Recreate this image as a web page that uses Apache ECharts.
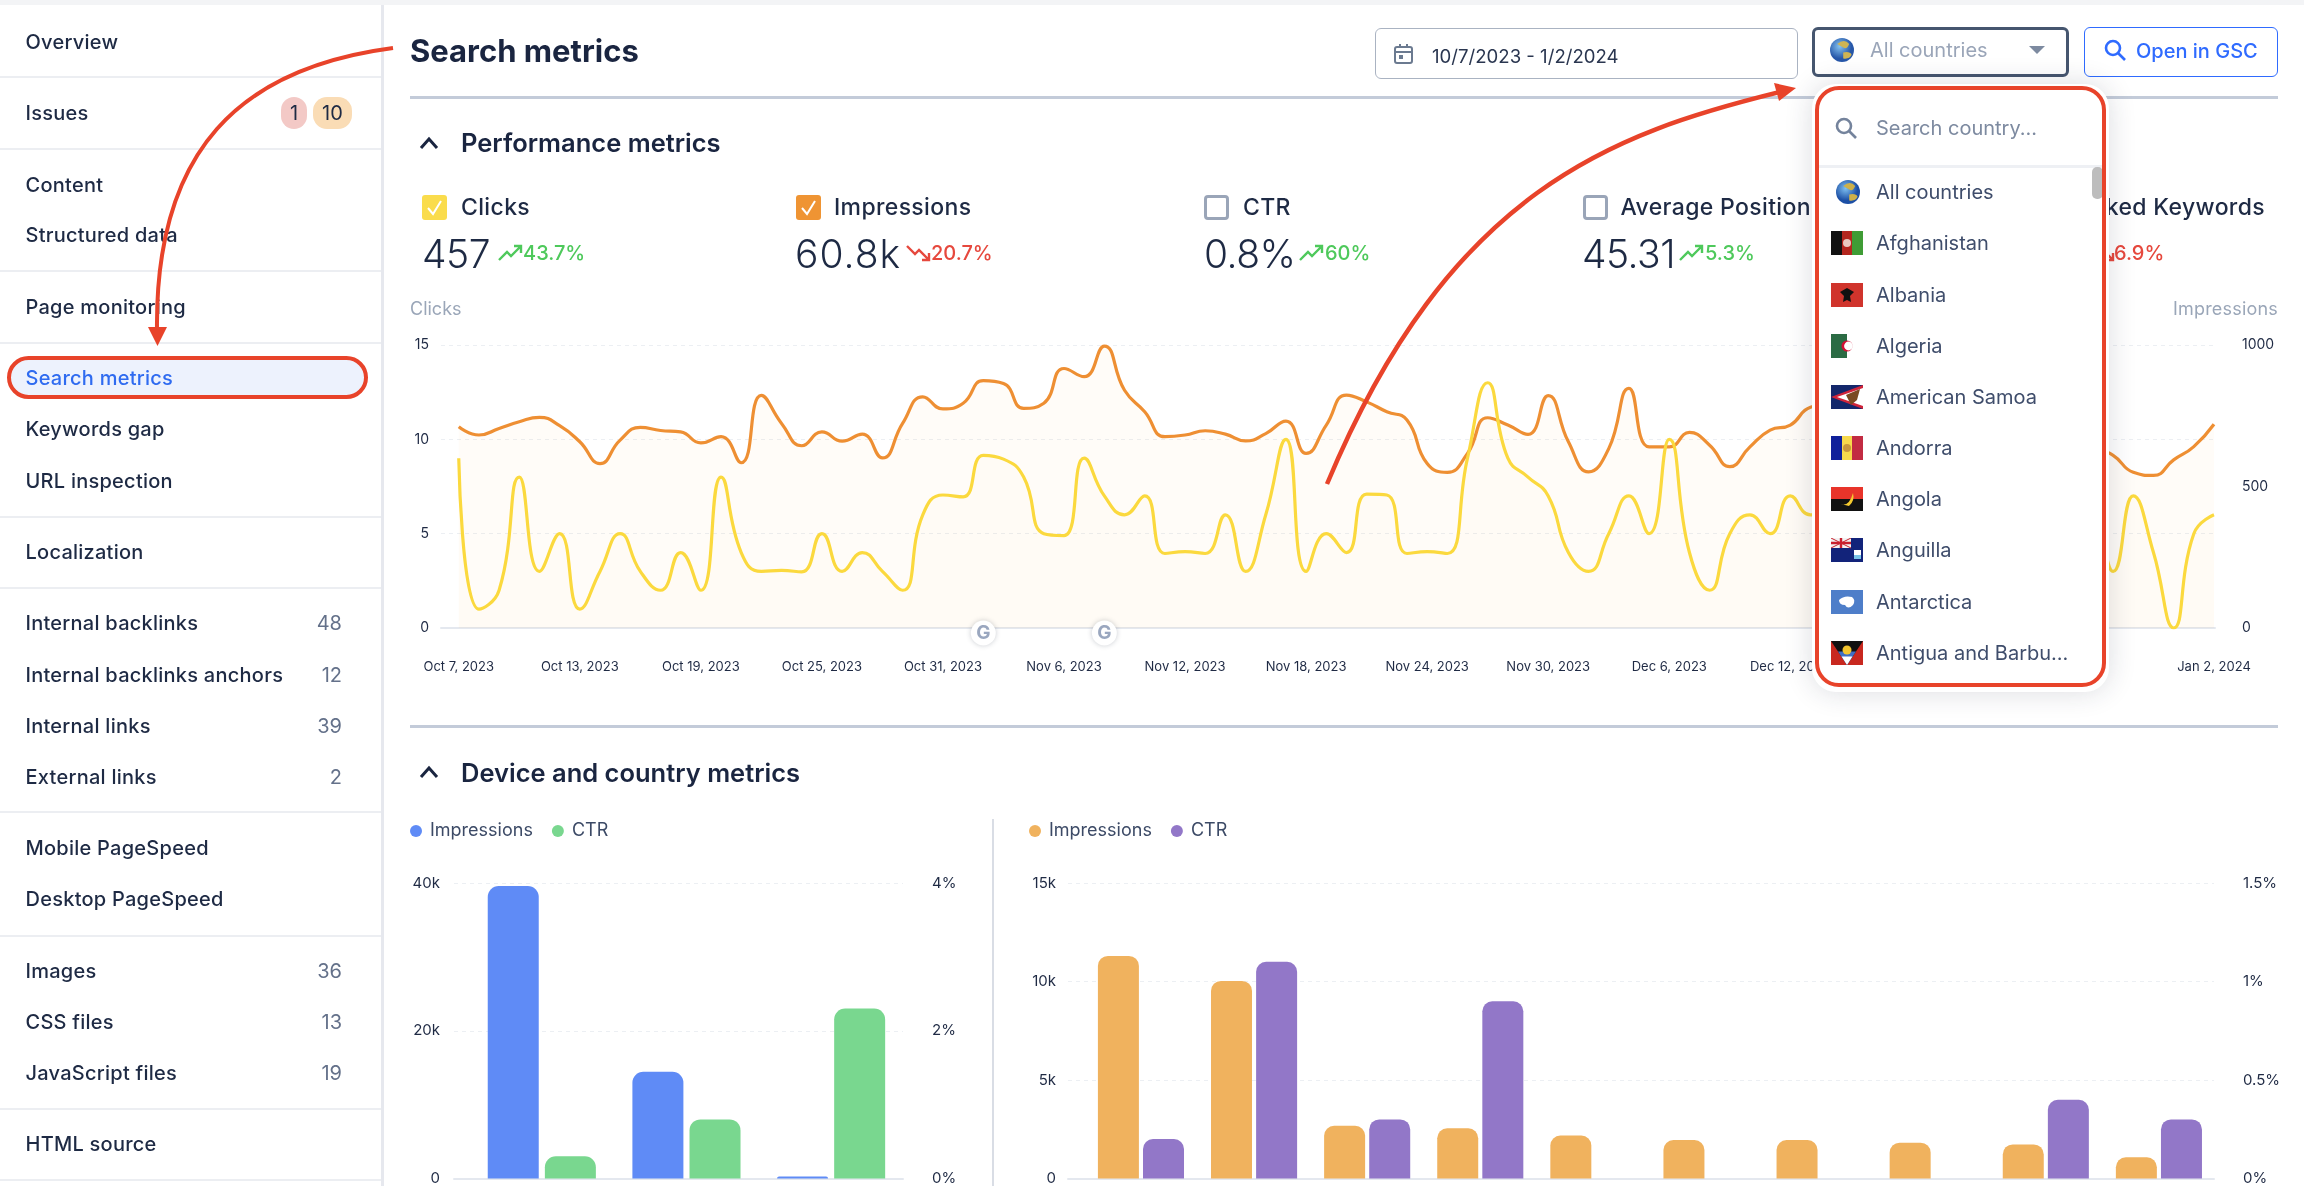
<!DOCTYPE html>
<html><head><meta charset="utf-8"><title>Search metrics</title>
<script src="https://cdn.jsdelivr.net/npm/echarts@6/dist/echarts.min.js"></script>
<style>
html,body{margin:0;padding:0;background:#fff;width:2304px;height:1186px;overflow:hidden;font-family:Inter,"Noto Sans",sans-serif;color:#1e2a44}
#c1,#c2,#c3{position:absolute;left:0;top:0;width:2304px;height:1186px}
#ui{position:absolute;left:0;top:0;width:2304px;height:1186px;pointer-events:none}
#ui>*{position:absolute}
.t{transform:translateY(-50%);white-space:nowrap;line-height:1}
.r{transform:translate(-100%,-50%)}
.box{box-sizing:border-box}
</style></head><body>
<div id="c1"></div><div id="c2"></div><div id="c3"></div><div id="ui"></div>
<script>
// ---------- chart data ----------
const dates=["Oct 7, 2023","Oct 8, 2023","Oct 9, 2023","Oct 10, 2023","Oct 11, 2023","Oct 12, 2023","Oct 13, 2023","Oct 14, 2023","Oct 15, 2023","Oct 16, 2023","Oct 17, 2023","Oct 18, 2023","Oct 19, 2023","Oct 20, 2023","Oct 21, 2023","Oct 22, 2023","Oct 23, 2023","Oct 24, 2023","Oct 25, 2023","Oct 26, 2023","Oct 27, 2023","Oct 28, 2023","Oct 29, 2023","Oct 30, 2023","Oct 31, 2023","Nov 1, 2023","Nov 2, 2023","Nov 3, 2023","Nov 4, 2023","Nov 5, 2023","Nov 6, 2023","Nov 7, 2023","Nov 8, 2023","Nov 9, 2023","Nov 10, 2023","Nov 11, 2023","Nov 12, 2023","Nov 13, 2023","Nov 14, 2023","Nov 15, 2023","Nov 16, 2023","Nov 17, 2023","Nov 18, 2023","Nov 19, 2023","Nov 20, 2023","Nov 21, 2023","Nov 22, 2023","Nov 23, 2023","Nov 24, 2023","Nov 25, 2023","Nov 26, 2023","Nov 27, 2023","Nov 28, 2023","Nov 29, 2023","Nov 30, 2023","Dec 1, 2023","Dec 2, 2023","Dec 3, 2023","Dec 4, 2023","Dec 5, 2023","Dec 6, 2023","Dec 7, 2023","Dec 8, 2023","Dec 9, 2023","Dec 10, 2023","Dec 11, 2023","Dec 12, 2023","Dec 13, 2023","Dec 14, 2023","Dec 15, 2023","Dec 16, 2023","Dec 17, 2023","Dec 18, 2023","Dec 19, 2023","Dec 20, 2023","Dec 21, 2023","Dec 22, 2023","Dec 23, 2023","Dec 24, 2023","Dec 25, 2023","Dec 26, 2023","Dec 27, 2023","Dec 28, 2023","Dec 29, 2023","Dec 30, 2023","Dec 31, 2023","Jan 1, 2024","Jan 2, 2024"];
const clicks=[9,1,2,8,3,5,1,3,5,3,2,4,2,8,4,3,3.05,2.98,5,3,4,3,2,6,7.05,6.95,9.15,8.95,8,5,4.9,9,7,6,7,3.95,4.05,3.95,6,3,6,10,3,5,4,7.1,7.05,3.95,4.05,3.95,9,13,9,8,7,4,3,5,7,5,10,4,2,5,6,5,7,6,6,7,5,4,6,8,5,3,4,6,5,7,4,6,3,7,4,0,5,6];
const impressions=[711,682,705,729,744,715,658,581,664,709,698,693,654,676,584,822,723,644,693,660,685,601,723,817,774,794,874,864,776,794,917,888,996,840,764,676,682,697,685,661,687,731,617,717,823,799,764,735,581,550,617,743,717,684,821,658,552,634,847,640,640,691,646,570,640,699,717,780,790,760,800,740,700,690,720,680,640,670,720,690,650,640,610,550,539,594,641,720];
const googleUpdates=[26,32];
const xLabelDays=[0,6,12,18,24,30,36,42,48,54,60,66,72,78,87];
const deviceImpressions=[39600,14450,270];
const deviceCtr=[0.3,0.8,2.3];
const countryImpressions=[11300,10030,2680,2550,2180,1950,1950,1820,1730,1080];
const countryCtr=[0.2,1.1,0.3,0.9,0,0,0,0,0.4,0.3];
const dims={ink:'#1f2a44',grid:'#eceff3',base:'#e4e8ef'};

// ---------- charts ----------
const FONT='Inter';
const grid=(x)=>({lineStyle:{color:dims.grid,type:[4,4],width:1},show:x});
const withI=a=>a.map((v,i)=>[i,v]);
const pick=i=>dates[i];

const c1=echarts.init(document.getElementById('c1'));
c1.setOption({
  animation:false,textStyle:{fontFamily:FONT},
  grid:{left:441,right:89,top:345,bottom:1186-628,containLabel:false},
  xAxis:{type:'value',min:-0.88,max:87.05,
    axisLine:{show:true,onZero:false,lineStyle:{color:dims.base,width:2}},axisTick:{show:false},splitLine:{show:false},
    axisLabel:{customValues:xLabelDays,formatter:v=>pick(v),margin:33,fontSize:13,color:dims.ink,hideOverlap:false,fontFamily:FONT}},
  yAxis:[
   {type:'value',min:0,max:15,interval:5,axisLine:{show:false},axisTick:{show:false},splitLine:grid(true),
    axisLabel:{margin:12,fontSize:14,color:dims.ink,fontFamily:FONT,padding:[0,0,3,0]}},
   {type:'value',min:0,max:1000,interval:500,position:'right',axisLine:{show:false},axisTick:{show:false},splitLine:{show:false},
    axisLabel:{margin:27,fontSize:14,color:dims.ink,fontFamily:FONT,padding:[0,0,3,0],formatter:v=>String(v)}}
  ],
  series:[
   {name:'Impressions',type:'line',yAxisIndex:1,data:withI(impressions),smooth:0.5,showSymbol:false,z:2,
    lineStyle:{color:'#ee8f33',width:3.2},itemStyle:{color:'#ee8f33'},areaStyle:{color:'rgba(245,165,70,0.05)'}},
   {name:'Clicks',type:'line',yAxisIndex:0,data:withI(clicks),smooth:0.5,showSymbol:false,z:3,
    lineStyle:{color:'#fbd93e',width:3.2},itemStyle:{color:'#fbd93e'},areaStyle:{color:'rgba(250,220,70,0.025)'},
    markLine:{silent:true,symbol:'none',label:{show:false},lineStyle:{color:'#d7dbe2',type:[4,3],width:1},
      data:googleUpdates.map(d=>[{coord:[d,0]},{coord:[d,15.8]}])},
    markPoint:{silent:true,symbol:'circle',symbolSize:25,symbolOffset:[0,5],
      itemStyle:{color:'#fff',shadowBlur:5,shadowColor:'rgba(40,50,70,.25)'},
      label:{show:true,formatter:'G',color:'#9aa7bf',fontWeight:'bold',fontSize:19,fontFamily:FONT},
      data:googleUpdates.map(d=>({coord:[d,0]}))}}
  ]});

function barChart(el,cfg){
  const c=echarts.init(document.getElementById(el));
  c.setOption({
    animation:false,textStyle:{fontFamily:FONT},
    legend:{left:cfg.legendLeft,top:822,padding:0,icon:'circle',itemWidth:12,itemHeight:12,itemGap:cfg.legendGap,selectedMode:false,
      textStyle:{fontSize:18,color:'#3c4a66',fontFamily:FONT,padding:[0,0,0,3]}},
    grid:{left:cfg.left,right:2304-cfg.right,top:883,bottom:1186-1182},
    xAxis:{type:'value',min:cfg.xMin,max:cfg.xMax,axisLabel:{show:false},axisTick:{show:false},splitLine:{show:false},
      axisLine:{show:true,lineStyle:{color:dims.base,width:2}}},
    yAxis:[
     {type:'value',min:0,max:cfg.maxL,interval:cfg.stepL,axisLine:{show:false},axisTick:{show:false},splitLine:grid(true),
      axisLabel:{margin:cfg.marginL,fontSize:15,color:dims.ink,fontFamily:FONT,padding:[0,0,5,0],formatter:v=>v?v/1000+'k':'0'}},
     {type:'value',min:0,max:cfg.maxR,interval:cfg.stepR,position:'right',axisLine:{show:false},axisTick:{show:false},splitLine:{show:false},
      axisLabel:{margin:cfg.marginR,fontSize:15,color:dims.ink,fontFamily:FONT,padding:[0,0,5,0],formatter:v=>v+'%'}}
    ],
    series:[
     {name:'Impressions',type:'bar',yAxisIndex:0,data:withI(cfg.a),barWidth:cfg.barW,barGap:cfg.gap,
      itemStyle:{color:cfg.colA,borderRadius:[cfg.rad,cfg.rad,0,0]}},
     {name:'CTR',type:'bar',yAxisIndex:1,data:withI(cfg.b),barWidth:cfg.barW,barGap:cfg.gap,
      itemStyle:{color:cfg.colB,borderRadius:[cfg.rad,cfg.rad,0,0]}}
    ]});
}
barChart('c2',{legendLeft:410,legendGap:19,left:454,right:903,xMin:-0.607,xMax:2.497,maxL:40000,stepL:20000,maxR:4,stepR:2,marginL:14,marginR:29,
  a:deviceImpressions,b:deviceCtr,barW:51,gap:'12%',rad:11,colA:'#5f8bf6',colB:'#79d78f'});
barChart('c3',{legendLeft:1029,legendGap:19,left:1068,right:2214,xMin:-0.645,xMax:9.487,maxL:15000,stepL:5000,maxR:1.5,stepR:0.5,marginL:12,marginR:29,
  a:countryImpressions,b:countryCtr,barW:41,gap:'10%',rad:10,colA:'#f0b25e',colB:'#9277c8'});

// ---------- page chrome ----------
const ui=document.getElementById('ui');
function el(html){const d=document.createElement('div');d.innerHTML=html.trim();const n=d.firstChild;ui.appendChild(n);return n}
function box(x,y,w,h,css){el(`<div class="box" style="left:${x}px;top:${y}px;width:${w}px;height:${h}px;${css||''}"></div>`)}
function txt(x,y,s,css,cls){el(`<div class="t ${cls||''}" style="left:${x}px;top:${y}px;${css||''}">${s}</div>`)}
function svg(x,y,w,h,inner,css){el(`<svg style="left:${x}px;top:${y}px;${css||''}" width="${w}" height="${h}" viewBox="0 0 ${w} ${h}">${inner}</svg>`)}

box(0,0,2304,5,'background:#f3f4f6');
box(381,5,3,1181,'background:#e6e8ee');
const sideSeps=[76,147.5,270,341.5,516,587,811,934.6,1107.6,1179];
sideSeps.forEach(y=>box(0,y,381,2,'background:#eceef2'));
box(7,356,361,43,'background:#edf2fd;border:4px solid #e8432a;border-radius:22px');
const sideItems=[["Overview",42],["Issues",113],["Content",184.5],["Structured data",235],["Page monitoring",307],["Search metrics",378],["Keywords gap",429],["URL inspection",481],["Localization",552],["Internal backlinks",623,"48"],["Internal backlinks anchors",675,"12"],["Internal links",726,"39"],["External links",777,"2"],["Mobile PageSpeed",848],["Desktop PageSpeed",898.5],["Images",971,"36"],["CSS files",1022,"13"],["JavaScript files",1073,"19"],["HTML source",1144]];
sideItems.forEach(([s,y,n])=>{
  txt(25.5,y,s,`font-size:20px;font-weight:500;letter-spacing:.25px;color:${s==='Search metrics'?'#2f6bf0':'#1e2a44'}`);
  if(n)txt(342,y,n,'font-size:20px;color:#64718a','r');
});
box(281,97,26,32,'background:#f3c9c6;border-radius:13px');
box(313,97,39,32,'background:#fadcb5;border-radius:14px');
txt(294,113,'1','font-size:20px;transform:translate(-50%,-50%)');
txt(332.5,113,'10','font-size:20px;transform:translate(-50%,-50%)');

txt(410,50,'Search metrics','font-size:31px;font-weight:700;color:#1a2540');
box(410,96,1868,3,'background:#c3cbd9');
box(410,725,1868,3,'background:#c3cbd9');
box(992,819,2,367,'background:#d9dde5');

const chev=(x,y)=>svg(x,y,22,14,'<path d="M3 12 L11 3 L19 12" fill="none" stroke="#1a2540" stroke-width="3"/>');
chev(418,136);chev(418,765);
txt(461,143,'Performance metrics','font-size:25.5px;font-weight:600;color:#1a2540');
txt(461,773,'Device and country metrics','font-size:25.5px;font-weight:600;color:#1a2540');

const check=(x,col)=>{box(x,195,25,25,`background:${col};border-radius:3px`);svg(x,195,25,25,'<path d="M6 13 L11 19 L19 6" fill="none" stroke="#fff" stroke-width="2"/>')};
const empty=x=>box(x,195,25,25,'border:3px solid #9aa5b8;border-radius:4px');
const up=(x,y,c)=>svg(x,y,25,18,`<path d="M1 16 L9 8 L13 12 L23 2 M16 2 H23 V9" fill="none" stroke="${c}" stroke-width="2.4"/>`);
const dn=(x,y,c)=>svg(x,y,25,18,`<path d="M1 2 L9 10 L13 6 L23 16 M16 16 H23 V9" fill="none" stroke="${c}" stroke-width="2.4"/>`);
const GREEN='#4ec95b',RED='#e6483d';
const metrics=[
 {x:422,lab:461,name:'Clicks',val:'457',chg:'43.7%',ax:498,tx:523,col:GREEN,mk:()=>check(422,'#fadc4c'),ar:up},
 {x:795,lab:834,name:'Impressions',val:'60.8k',chg:'20.7%',ax:906,tx:931,col:RED,mk:()=>check(796,'#ef9433'),ar:dn},
 {x:1204,lab:1243,name:'CTR',val:'0.8%',chg:'60%',ax:1299,tx:1325,col:GREEN,mk:()=>empty(1204),ar:up},
 {x:1582,lab:1620.5,name:'Average Position',val:'45.31',chg:'5.3%',ax:1679,tx:1705,col:GREEN,mk:()=>empty(1582.5),ar:up}];
metrics.forEach(m=>{m.mk();
  txt(m.lab,207,m.name,'font-size:23px;font-weight:500;letter-spacing:.35px;color:#1e2a44');
  txt(m.x,253,m.val,`font-size:39px;font-weight:350;color:#1e2a44;letter-spacing:${m.val==='60.8k'?'1':'-.5'}px`);
  m.ar(m.ax,244,m.col);
  txt(m.tx,253,m.chg,`font-size:20px;font-weight:500;color:${m.col}`);
});
txt(2265,207,'Ranked Keywords','font-size:23px;font-weight:500;letter-spacing:.35px;color:#1e2a44','r');
dn(2090,244,RED);
txt(2114,253,'6.9%',`font-size:20px;font-weight:500;color:${RED}`);

txt(410,309,'Clicks','font-size:18px;color:#9aa6b8');
txt(2278,309,'Impressions','font-size:18px;color:#9aa6b8;letter-spacing:.2px','r');

// controls
box(1375,28,423,51,'border:1.5px solid #aab3c2;border-radius:6px;background:#fff');
svg(1392,42,24,24,'<rect x="3" y="5" width="17" height="16" rx="2" fill="none" stroke="#6b7a90" stroke-width="2"/><path d="M3 10H20M8 2V6M15 2V6" stroke="#6b7a90" stroke-width="2"/><rect x="7" y="13" width="4" height="4" fill="#6b7a90"/>');
txt(1432,56,'10/7/2023 - 1/2/2024','font-size:18.6px;color:#2a3650');
box(1812,27,257,50,'border:3px solid #46566f;border-radius:6px;background:#fff');
const globe=(x,y,r,op)=>svg(x-r,y-r,2*r,2*r,`<defs><radialGradient id="g${x}${y}" cx="40%" cy="35%"><stop offset="0" stop-color="#7fc0f0"/><stop offset="1" stop-color="#1c4fa5"/></radialGradient></defs><circle cx="${r}" cy="${r}" r="${r}" fill="url(#g${x}${y})"/><path d="M${r*.6} ${r*.5} q${r*.6} -${r*.5} ${r} 0 q-${r*.2} ${r*.5} -${r*.5} ${r*.3} z M${r*1.1} ${r*1.2} q${r*.6} -${r*.1} ${r*.7} ${r*.2} q-${r*.2} ${r*.4} -${r*.7} ${r*.3} z" fill="#cdb04a"/>`,`opacity:${op}`);
globe(1842,50,12,.95);
txt(1870,50,'All countries','font-size:20px;color:#9aa5b8');
svg(2028,45,18,10,'<path d="M1 1 H17 L9 9 Z" fill="#7d8aa0"/>');
box(2084,27,194,50,'border:1.5px solid #2f6bff;border-radius:6px;background:#fff');
const lens=(x,y,c)=>svg(x,y,24,24,`<circle cx="10" cy="10" r="7" fill="none" stroke="${c}" stroke-width="2.6"/><path d="M15 15 L22 22" stroke="${c}" stroke-width="2.6"/>`);
lens(2103,38,'#2f6bff');
txt(2136,51,'Open in GSC','font-size:20px;font-weight:500;color:#2f6bff');

// dropdown
box(1812,84,297,608,'background:#fff;border-radius:24px;box-shadow:0 0 28px rgba(30,40,60,.16)');
lens(1834,116,'#74839c');
txt(1876,128,'Search country...','font-size:20px;color:#7d8aa0');
box(1817,165,288,3,'background:#eef0f4');
box(2092,167,11,32,'background:#bdbdbd;border-radius:5px');
globe(1848,192,12,1);
const flags=[
 ['Afghanistan',243,'<rect width="11" height="24" fill="#111"/><rect x="11" width="10" height="24" fill="#b3261e"/><rect x="21" width="11" height="24" fill="#3f9c35"/><circle cx="16" cy="12" r="4" fill="#e8c9c0"/>'],
 ['Albania',295,'<rect width="32" height="24" fill="#d0342c"/><path d="M16 5 L23 9 L19 13 L20 19 L16 17 L12 19 L13 13 L9 9Z" fill="#111"/>'],
 ['Algeria',346,'<rect width="16" height="24" fill="#2b6b44"/><rect x="16" width="16" height="24" fill="#fff"/><circle cx="16" cy="12" r="5.5" fill="#d21034"/><circle cx="17.5" cy="12" r="4.4" fill="#fff"/>'],
 ['American Samoa',397,'<rect width="32" height="24" fill="#13276b"/><path d="M32 0 V24 L0 12Z" fill="#d0243a"/><path d="M32 3 V21 L6 12Z" fill="#fff"/><path d="M15 10 L29 4 L26 15 L20 20Z" fill="#7a4a22"/>'],
 ['Andorra',448,'<rect width="11" height="24" fill="#10209a"/><rect x="11" width="10" height="24" fill="#f7d94c"/><rect x="21" width="11" height="24" fill="#c22b42"/><circle cx="16" cy="12" r="4" fill="#c9973d"/>'],
 ['Angola',499,'<rect width="32" height="12" fill="#e8342a"/><rect y="12" width="32" height="12" fill="#111"/><path d="M10 17 Q18 20 22 6 Q24 14 18 19 Z" fill="#f5cb2f"/>'],
 ['Anguilla',550,'<rect width="32" height="24" fill="#12237a"/><rect width="20" height="10" fill="#f2f2f2"/><path d="M0 5H20M10 0V10" stroke="#c8202f" stroke-width="2.4"/><path d="M0 0L20 10M20 0L0 10" stroke="#c8202f" stroke-width="1"/><rect x="23" y="12" width="7" height="9" fill="#fff"/><rect x="23" y="17" width="7" height="4" fill="#79c4e8"/>'],
 ['Antarctica',602,'<rect width="32" height="24" fill="#4e7ec9"/><path d="M8 10 Q13 5 21 7 Q25 10 22 15 Q17 20 14 15 Q8 15 8 10Z" fill="#fff"/>'],
 ['Antigua and Barbu...',653,'<rect width="32" height="24" fill="#c8281f"/><path d="M0 0H32L16 24Z" fill="#111"/><path d="M7 10.5H25L16 24Z" fill="#3f6fc4"/><path d="M10.5 15.5H21.5L16 24Z" fill="#fff"/><circle cx="16" cy="9" r="4.5" fill="#f3c52f"/>']
];
txt(1876,192,'All countries','font-size:20px;color:#3f4d6b');
flags.forEach(([n,y,f])=>{svg(1831,y-12,32,24,f);txt(1876,y,n,'font-size:20px;color:#3f4d6b')});
box(1815,86,291,601,'border:4px solid #e8432a;border-radius:24px');

// red annotation arrows
svg(0,0,2304,1186,`
<path d="M393 48 C 240 68 155 150 157 330" fill="none" stroke="#e8432a" stroke-width="4"/>
<path d="M148 327 H167 L157.5 346 Z" fill="#e8432a"/>
<path d="M1327 484 C 1450 189 1614 133 1780 92" fill="none" stroke="#e8432a" stroke-width="4.5"/>
<path d="M1796 88 L1774 83 L1779 101 Z" fill="#e8432a"/>`);
</script>
</body></html>
